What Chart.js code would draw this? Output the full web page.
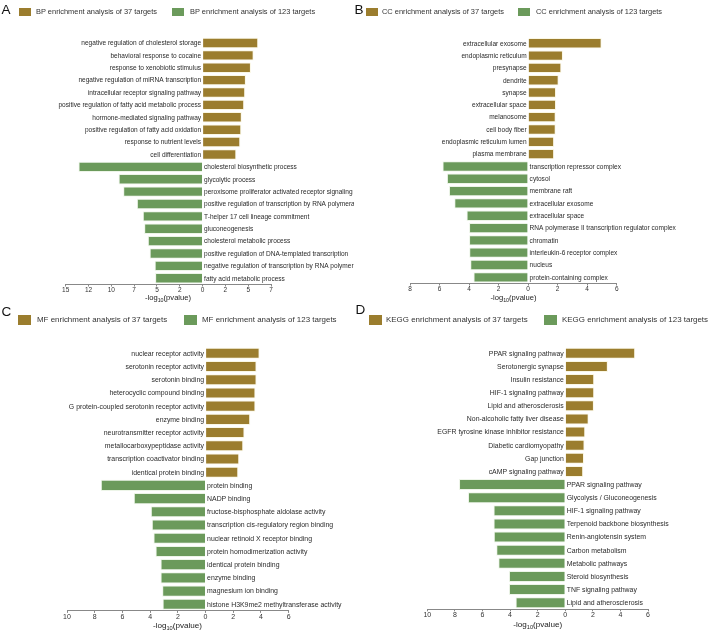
<!DOCTYPE html>
<html>
<head>
<meta charset="utf-8">
<script src="https://cdn.jsdelivr.net/npm/chart.js@4/dist/chart.umd.min.js"></script>
<style>
body{margin:0;background:#fff;font-family:"Liberation Sans",Arial,sans-serif}
#wrap{position:relative;width:708px;height:633px;overflow:hidden}
.abs{position:absolute;white-space:nowrap}
.txt{filter:grayscale(1)}
.letter{font-size:13.5px;line-height:13px;color:#111}
.xt{color:#222;transform:translateX(-50%)}
.xt sub{font-size:70%;vertical-align:-2px;line-height:0}
canvas{position:absolute}
</style>
</head>
<body>
<div id="wrap"></div>
<script>
/* ── DATA ────────────────────────────────────────────────── */
const bp37Labels = ['negative regulation of cholesterol storage', 'behavioral response to cocaine', 'response to xenobiotic stimulus', 'negative regulation of miRNA transcription', 'intracellular receptor signaling pathway', 'positive regulation of fatty acid metabolic process', 'hormone-mediated signaling pathway', 'positive regulation of fatty acid oxidation', 'response to nutrient levels', 'cell differentiation'];
const bp37Vals = [6.1, 5.6, 5.3, 4.75, 4.67, 4.56, 4.3, 4.24, 4.13, 3.7];
const bp123Labels = ['cholesterol biosynthetic process', 'glycolytic process', 'peroxisome proliferator activated receptor signaling pathway', 'positive regulation of transcription by RNA polymerase II', 'T-helper 17 cell lineage commitment', 'gluconeogenesis', 'cholesterol metabolic process', 'positive regulation of DNA-templated transcription', 'negative regulation of transcription by RNA polymerase II', 'fatty acid metabolic process'];
const bp123Vals = [13.6, 9.2, 8.7, 7.2, 6.55, 6.4, 6.0, 5.8, 5.25, 5.2];

const cc37Labels = ['extracellular exosome', 'endoplasmic reticulum', 'presynapse', 'dendrite', 'synapse', 'extracellular space', 'melanosome', 'cell body fiber', 'endoplasmic reticulum lumen', 'plasma membrane'];
const cc37Vals = [4.98, 2.36, 2.25, 2.07, 1.89, 1.89, 1.87, 1.87, 1.76, 1.76];
const cc123Labels = ['transcription repressor complex', 'cytosol', 'membrane raft', 'extracellular exosome', 'extracellular space', 'RNA polymerase II transcription regulator complex', 'chromatin', 'interleukin-6 receptor complex', 'nucleus', 'protein-containing complex'];
const cc123Vals = [5.8, 5.5, 5.36, 5.0, 4.17, 4.0, 4.0, 3.99, 3.92, 3.7];

const mf37Labels = ['nuclear receptor activity', 'serotonin receptor activity', 'serotonin binding', 'heterocyclic compound binding', 'G protein-coupled serotonin receptor activity', 'enzyme binding', 'neurotransmitter receptor activity', 'metallocarboxypeptidase activity', 'transcription coactivator binding', 'identical protein binding'];
const mf37Vals = [3.9, 3.68, 3.68, 3.6, 3.6, 3.22, 2.81, 2.72, 2.43, 2.36];
const mf123Labels = ['protein binding', 'NADP binding', 'fructose-bisphosphate aldolase activity', 'transcription cis-regulatory region binding', 'nuclear retinoid X receptor binding', 'protein homodimerization activity', 'identical protein binding', 'enzyme binding', 'magnesium ion binding', 'histone H3K9me2 methyltransferase activity'];
const mf123Vals = [7.56, 5.18, 3.95, 3.88, 3.76, 3.61, 3.25, 3.25, 3.13, 3.1];

const kegg37Labels = ['PPAR signaling pathway', 'Serotonergic synapse', 'Insulin resistance', 'HIF-1 signaling pathway', 'Lipid and atherosclerosis', 'Non-alcoholic fatty liver disease', 'EGFR tyrosine kinase inhibitor resistance', 'Diabetic cardiomyopathy', 'Gap junction', 'cAMP signaling pathway'];
const kegg37Vals = [5.07, 3.09, 2.1, 2.1, 2.08, 1.7, 1.45, 1.4, 1.36, 1.3];
const kegg123Labels = ['PPAR signaling pathway', 'Glycolysis / Gluconeogenesis', 'HIF-1 signaling pathway', 'Terpenoid backbone biosynthesis', 'Renin-angiotensin system', 'Carbon metabolism', 'Metabolic pathways', 'Steroid biosynthesis', 'TNF signaling pathway', 'Lipid and atherosclerosis'];
const kegg123Vals = [7.7, 7.05, 5.2, 5.2, 5.18, 5.0, 4.85, 4.08, 4.08, 3.6];

// x axis [min, max, step]; tick labels show |v| truncated (15 12 10 7 5 2 0 2 5 7)
const xAxisA = [-15, 7.5, 2.5];
const xAxisB = [-8, 6, 2];
const xAxisC = [-10, 6, 2];
const xAxisD = [-10, 6, 2];

const GOLD = '#9b7d2e', GREEN = '#6b9a5b';
const FONT = '"Liberation Sans", Arial, sans-serif';

/* ── PANELS (layout only) ─────────────────────────────────── */
const panels = [
 { key: 'A', name: 'BP', l37: bp37Labels, v37: bp37Vals, l123: bp123Labels, v123: bp123Vals, ax: xAxisA,
   letter: [1.5, 2.5], leg: { y: 12, b1: 19, t1: 36, b2: 172, t2: 190, fs: 7.45, bw: 11.5, bh: 8.5 },
   cv: { x: 0, y: 30, w: 354, h: 268 }, pad: { left: 65.7, right: 83, top: 6.8, bottom: 3.7 },
   lab: 6.55, tick: 6.5, title: { x: 168, y: 298, fs: 7.6 } },
 { key: 'B', name: 'CC', l37: cc37Labels, v37: cc37Vals, l123: cc123Labels, v123: cc123Vals, ax: xAxisB,
   letter: [354.5, 2.5], leg: { y: 12, b1: 366, t1: 382, b2: 518, t2: 536, fs: 7.45, bw: 11.5, bh: 8.5 },
   cv: { x: 354, y: 30, w: 354, h: 268 }, pad: { left: 56, right: 91.3, top: 7.1, bottom: 4.7 },
   lab: 6.55, tick: 6.5, title: { x: 513.5, y: 297.7, fs: 7.6 } },
 { key: 'C', name: 'MF', l37: mf37Labels, v37: mf37Vals, l123: mf123Labels, v123: mf123Vals, ax: xAxisC,
   letter: [1.5, 304.5], leg: { y: 320, b1: 18, t1: 37, b2: 184, t2: 202, fs: 7.95, bw: 12.5, bh: 9.5 },
   cv: { x: 0, y: 338, w: 354, h: 290 }, pad: { left: 67, right: 65.3, top: 8.7, bottom: 6.7 },
   lab: 6.9, tick: 7, title: { x: 177.5, y: 626, fs: 8.1 } },
 { key: 'D', name: 'KEGG', l37: kegg37Labels, v37: kegg37Vals, l123: kegg123Labels, v123: kegg123Vals, ax: xAxisD,
   letter: [355.5, 302.5], leg: { y: 320, b1: 369, t1: 386, b2: 544, t2: 562, fs: 7.95, bw: 12.5, bh: 9.5 },
   cv: { x: 354, y: 338, w: 354, h: 290 }, pad: { left: 73.3, right: 60, top: 8.7, bottom: 8.3 },
   lab: 6.9, tick: 7, title: { x: 537.8, y: 624.7, fs: 8.1 } }
];

/* ── CATEGORY LABELS PLUGIN ───────────────────────────────── */
const barLabels = {
 id: 'barLabels',
 afterDatasetsDraw(chart, args, opts) {
  const { ctx, scales: { x, y } } = chart;
  const x0 = x.getPixelForValue(0);
  ctx.save();
  ctx.font = opts.size + 'px ' + FONT;
  ctx.fillStyle = '#2a2a2a';
  ctx.textBaseline = 'middle';
  chart.data.labels.forEach((lab, i) => {
   const py = y.getPixelForValue(i);
   const up = i < opts.split;
   ctx.textAlign = up ? 'right' : 'left';
   ctx.fillText(lab, up ? x0 - 1.5 : x0 + 1.5, py + 0.5);
  });
  ctx.restore();
 }
};

const wrap = document.getElementById('wrap');
function el(cls, css, html) {
 const e = document.createElement('div');
 e.className = cls;
 Object.assign(e.style, css);
 if (html !== undefined) e.innerHTML = html;
 wrap.appendChild(e);
 return e;
}

panels.forEach(p => {
 // letter + legend
 el('abs txt letter', { left: p.letter[0] + 'px', top: p.letter[1] + 'px' }, p.key);
 const L = p.leg;
 [[L.b1, GOLD], [L.b2, GREEN]].forEach(([bx, c]) =>
  el('abs', { left: bx + 'px', top: (L.y - L.bh / 2) + 'px', width: L.bw + 'px', height: L.bh + 'px', background: c }));
 [[L.t1, 37], [L.t2, 123]].forEach(([tx, n]) =>
  el('abs txt', { left: tx + 'px', top: (L.y - 6) + 'px', height: '12px', lineHeight: '12px', fontSize: L.fs + 'px', color: '#333' },
   `${p.name} enrichment analysis of ${n} targets`));
 // axis title
 el('abs txt xt', { left: p.title.x + 'px', top: (p.title.y - 6) + 'px', height: '12px', lineHeight: '12px', fontSize: p.title.fs + 'px' },
  '-log<sub>10</sub>(pvalue)');

 // chart
 const cv = document.createElement('canvas');
 cv.width = p.cv.w; cv.height = p.cv.h;
 Object.assign(cv.style, { left: p.cv.x + 'px', top: p.cv.y + 'px', width: p.cv.w + 'px', height: p.cv.h + 'px' });
 wrap.appendChild(cv);

 const nulls = p.l37.map(() => null);
 new Chart(cv.getContext('2d'), {
  type: 'bar',
  data: {
   labels: p.l37.concat(p.l123),
   datasets: [
    { data: p.v37.concat(nulls), backgroundColor: GOLD, borderColor: 'rgba(250,246,225,.9)', borderWidth: 1, grouped: false, barPercentage: 0.84, categoryPercentage: 1 },
    { data: nulls.concat(p.v123.map(v => -v)), backgroundColor: GREEN, borderColor: 'rgba(235,244,230,.9)', borderWidth: 1, grouped: false, barPercentage: 0.84, categoryPercentage: 1 }
   ]
  },
  options: {
   indexAxis: 'y',
   responsive: false,
   animation: false,
   devicePixelRatio: 1,
   layout: { padding: p.pad },
   plugins: { legend: { display: false }, tooltip: { enabled: false }, barLabels: { size: p.lab, split: p.l37.length } },
   scales: {
    y: { display: false },
    x: {
     min: p.ax[0], max: p.ax[1],
     grid: { display: true, drawOnChartArea: false, drawTicks: true, tickLength: 2, color: '#888' },
     border: { display: true, color: '#888', width: 1 },
     ticks: { stepSize: p.ax[2], autoSkip: false, maxRotation: 0, padding: 0, color: '#333', font: { family: FONT, size: p.tick },
      callback: v => Math.trunc(Math.abs(v)) }
    }
   }
  },
  plugins: [barLabels]
 });
});
</script>
</body>
</html>
